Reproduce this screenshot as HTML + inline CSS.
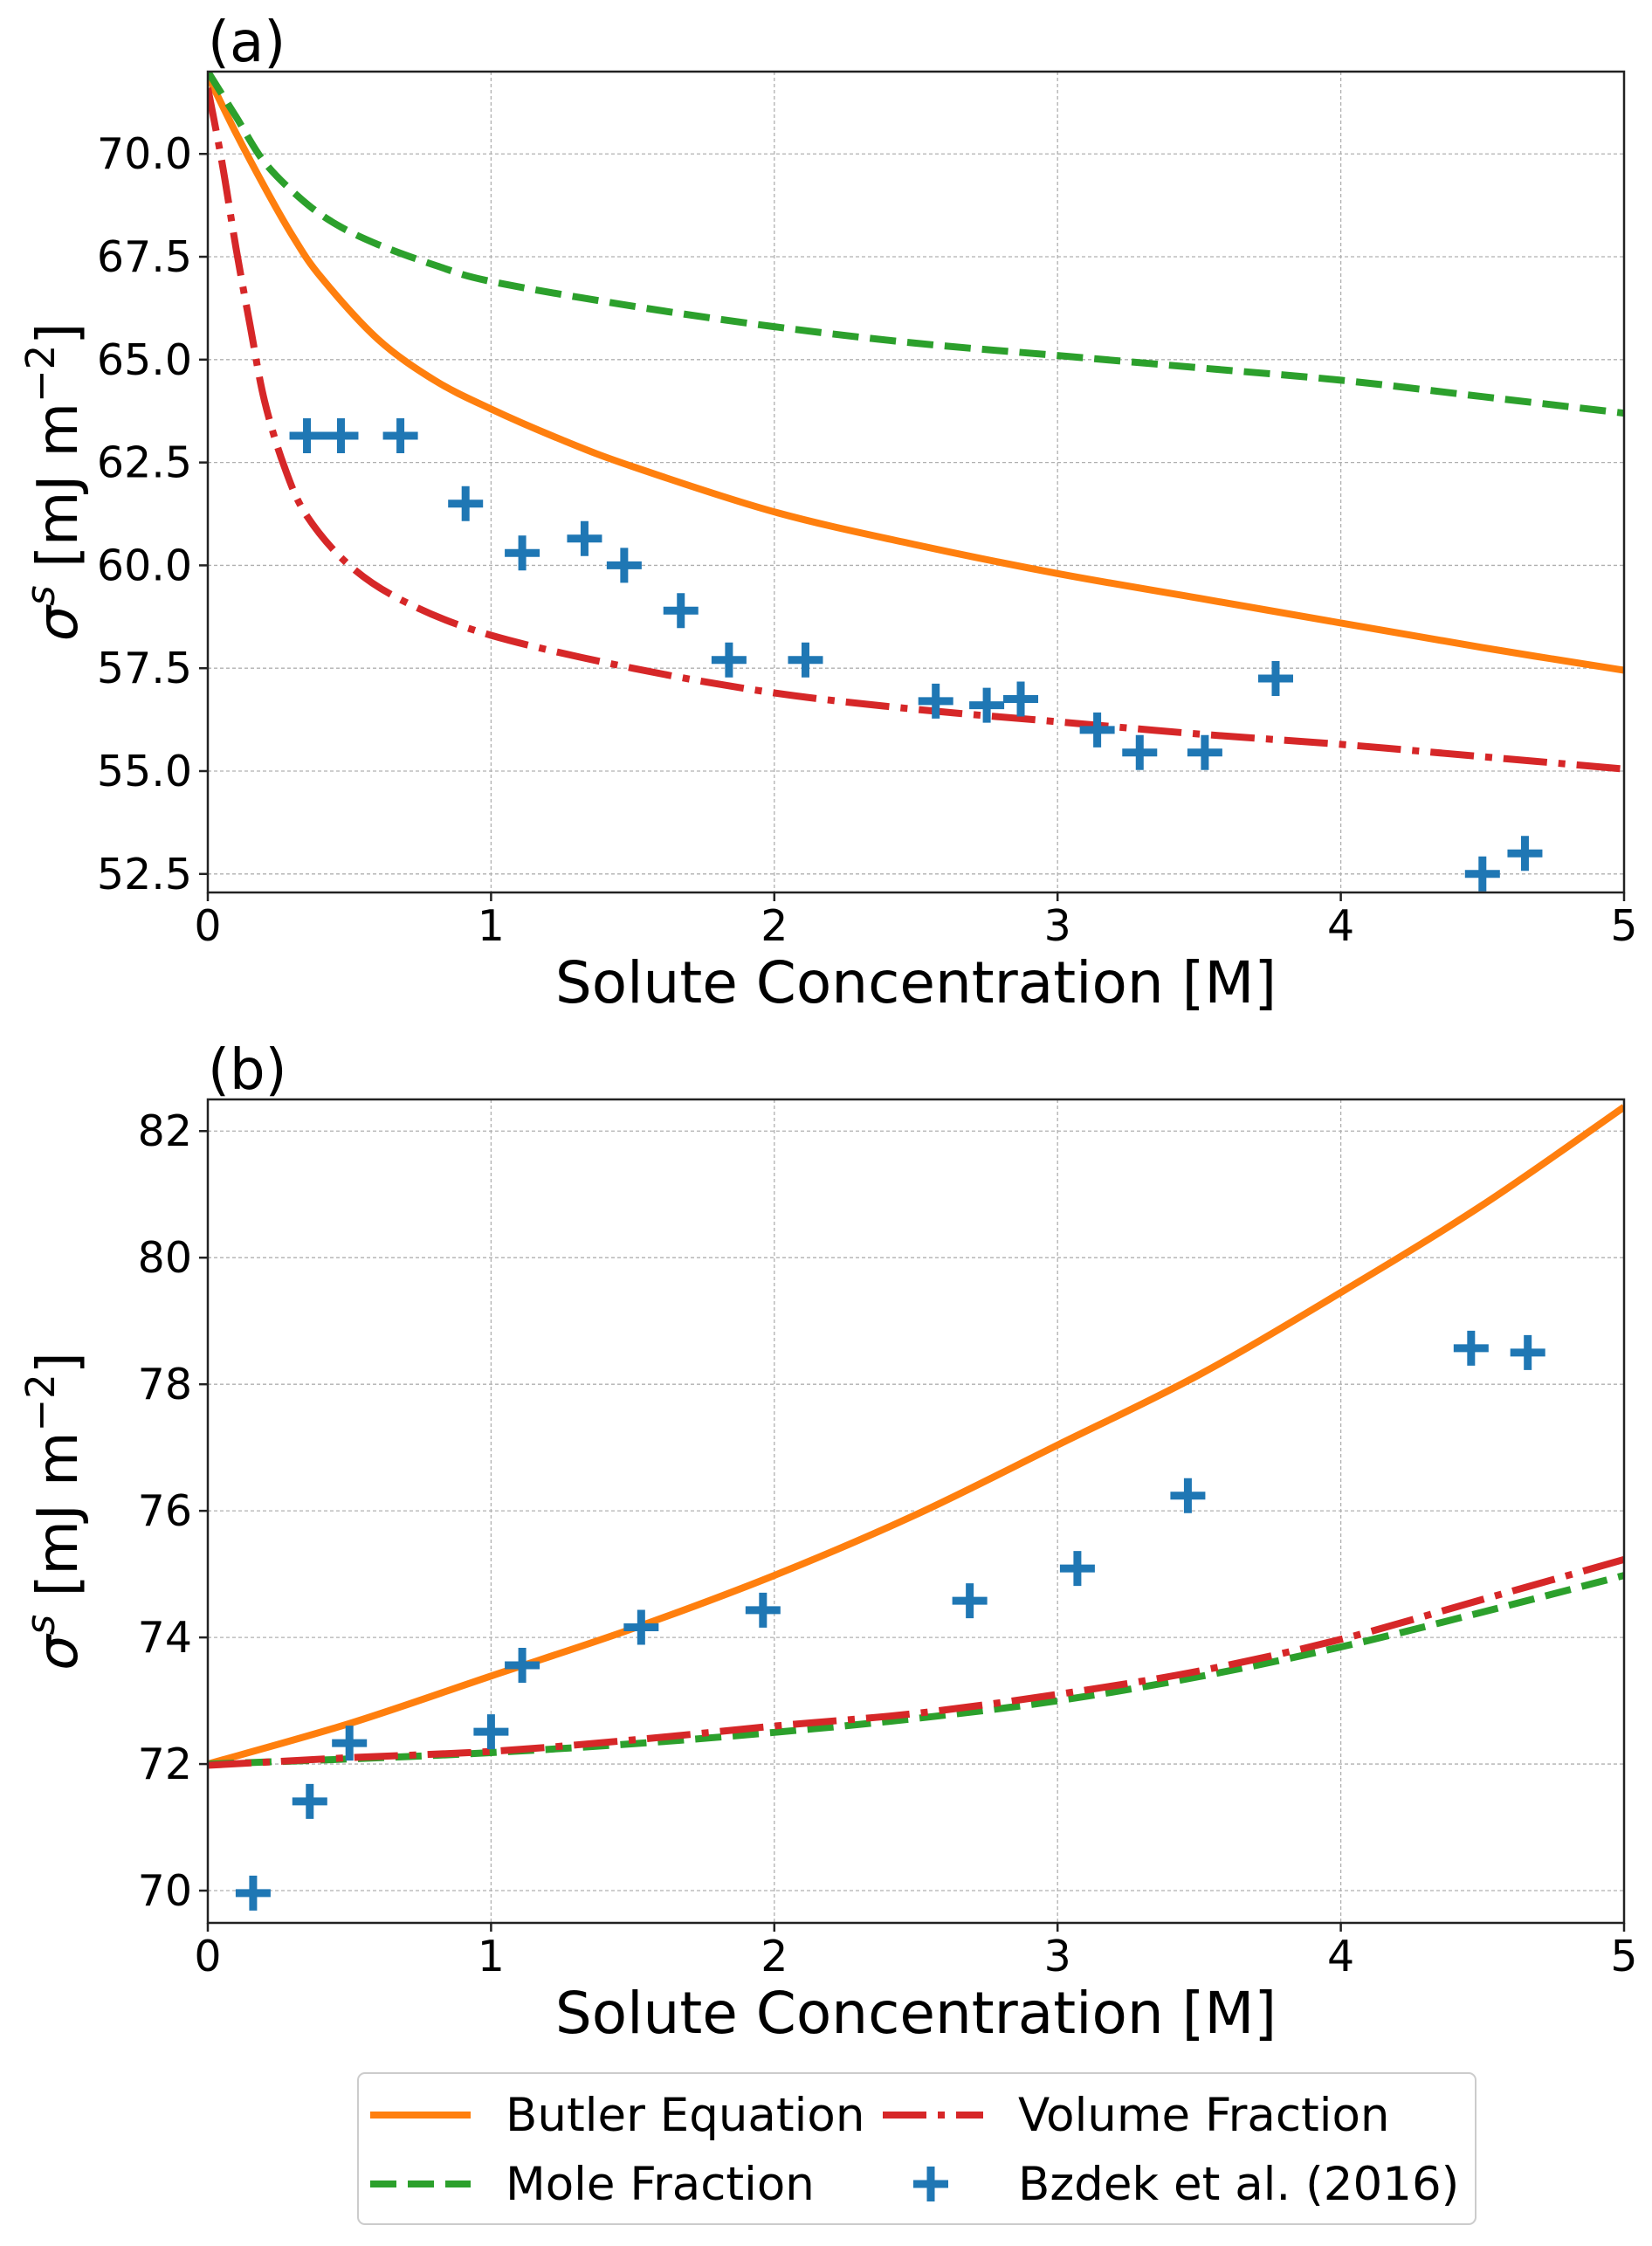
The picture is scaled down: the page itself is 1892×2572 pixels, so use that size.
<!DOCTYPE html>
<html><head><meta charset="utf-8"><style>
html,body{margin:0;padding:0;background:#fff;}
svg text{font-family:"DejaVu Sans","Liberation Sans",sans-serif;fill:#000;}
</style></head><body>
<svg id="fig" width="1892" height="2567" viewBox="0 0 1892 2567" xmlns="http://www.w3.org/2000/svg">
<rect width="1892" height="2567" fill="#fff"/>
<g id="pa"></g>
<g id="pb"></g>
<g id="legend"></g>
</svg>
<script>
// Panel (a) data
const aButlerX = [0,0.1,0.2,0.3,0.4,0.6,0.8,1,1.25,1.5,2,2.5,3,3.5,4,4.5,5];
const aButlerY = [71.9,70.5,69.2,68.0,67.0,65.5,64.5,63.8,63.05,62.4,61.3,60.5,59.8,59.2,58.6,58.0,57.45];
const aMoleX = [0,0.1,0.2,0.33,0.45,0.6,0.8,1,1.5,2,2.5,3,3.5,4,4.5,5];
const aMoleY = [72.0,70.9,69.8,68.9,68.3,67.8,67.3,66.9,66.3,65.8,65.4,65.1,64.8,64.5,64.1,63.7];
const aVolX = [0,0.05,0.1,0.15,0.2,0.27,0.35,0.5,0.7,1,1.5,2,2.5,3,3.5,4,4.5,5];
const aVolY = [71.6,69.8,67.7,65.8,64.0,62.4,61.2,60.0,59.1,58.3,57.5,56.9,56.5,56.2,55.9,55.65,55.35,55.05];
const aExpX = [0.35,0.47,0.68,0.91,1.11,1.33,1.47,1.67,1.84,2.11,2.57,2.75,2.87,3.14,3.29,3.52,3.77,4.50,4.65];
const aExpY = [63.15,63.15,63.15,61.5,60.3,60.65,60.0,58.9,57.7,57.7,56.7,56.6,56.75,56.0,55.45,55.45,57.25,52.5,53.0];
const aYTicks = [52.5,55.0,57.5,60.0,62.5,65.0,67.5,70.0];
// Panel (b) data
const bButlerX = [0,0.5,1,1.5,2,2.5,3,3.5,4,4.5,5];
const bButlerY = [72.0,72.64,73.39,74.14,74.98,75.94,77.04,78.15,79.45,80.83,82.38];
const bMoleX = [0,0.5,1,1.5,2,2.5,3,3.5,4,4.5,5];
const bMoleY = [72.0,72.08,72.18,72.32,72.5,72.72,73.0,73.38,73.85,74.4,74.98];
const bVolX = [0,0.5,1,1.5,2,2.5,3,3.5,4,4.5,5];
const bVolY = [71.98,72.1,72.2,72.38,72.6,72.8,73.1,73.47,73.97,74.6,75.23];
const bExpX = [0.16,0.36,0.5,1.0,1.11,1.53,1.96,2.69,3.07,3.46,4.46,4.66];
const bExpY = [69.96,71.41,72.33,72.51,73.56,74.16,74.43,74.58,75.09,76.24,78.57,78.5];
const bYTicks = [70,72,74,76,78,80,82];
const xTicks = [0,1,2,3,4,5];

const NS='http://www.w3.org/2000/svg';
function mk(parent,tag,attrs,text){const e=document.createElementNS(NS,tag);for(const k in attrs)e.setAttribute(k,attrs[k]);if(text!==undefined)e.textContent=text;parent.appendChild(e);return e;}
const ORANGE='#ff7f0e',GREEN='#2ca02c',RED='#d62728',BLUE='#1f77b4';
const LW=8;

function smoothPath(pts){
  let d='M'+pts[0][0].toFixed(1)+','+pts[0][1].toFixed(1);
  for(let i=0;i<pts.length-1;i++){
    const p0=pts[i-1]||pts[i],p1=pts[i],p2=pts[i+1],p3=pts[i+2]||p2;
    const c1=[p1[0]+(p2[0]-p0[0])/6,p1[1]+(p2[1]-p0[1])/6];
    const c2=[p2[0]-(p3[0]-p1[0])/6,p2[1]-(p3[1]-p1[1])/6];
    d+=` C${c1[0].toFixed(1)},${c1[1].toFixed(1)} ${c2[0].toFixed(1)},${c2[1].toFixed(1)} ${p2[0].toFixed(1)},${p2[1].toFixed(1)}`;
  }
  return d;
}

function panel(g,cfg){
  const L=238,R=1860,T=cfg.top,B=cfg.bottom;
  const sx=v=>L+(v-0)/(5-0)*(R-L);
  const sy=v=>B-(v-cfg.ymin)/(cfg.ymax-cfg.ymin)*(B-T);
  const clipId='clip'+cfg.id;
  const defs=mk(g,'defs',{});const cp=mk(defs,'clipPath',{id:clipId});mk(cp,'rect',{x:L,y:T,width:R-L,height:B-T});
  xTicks.forEach(t=>{const l=mk(g,'line',{x1:sx(t),x2:sx(t),y1:T,y2:B,stroke:'#b0b0b0','stroke-width':1.3,'stroke-dasharray':'4,3'});
    
    });
  cfg.yticks.forEach(t=>{const l=mk(g,'line',{x1:L,x2:R,y1:sy(t),y2:sy(t),stroke:'#b0b0b0','stroke-width':1.3,'stroke-dasharray':'4,3'});
    
    });
  const plot=mk(g,'g',{'clip-path':'url(#'+clipId+')'});
  function line(xs,ys,color,dash,name){
    const pts=xs.map((x,i)=>[sx(x),sy(ys[i])]);
    const p=mk(plot,'path',{d:smoothPath(pts),fill:'none',stroke:color,'stroke-width':LW,'stroke-dasharray':dash||'none','stroke-linejoin':'round'});
    
    
  }
  line(cfg.bx,cfg.by,ORANGE,null,'butler-equation-line');
  line(cfg.mx,cfg.my,GREEN,'30,13','mole-fraction-line');
  line(cfg.vx,cfg.vy,RED,'50,13,8,13','volume-fraction-line');
  cfg.ex.forEach((x,i)=>{
    const cx=sx(x),cy=sy(cfg.ey[i]);
    const m=mk(plot,'path',{d:`M${cx-20},${cy}H${cx+20}M${cx},${cy-20}V${cy+20}`,stroke:BLUE,'stroke-width':9,fill:'none'});
    
    
  });
  mk(g,'rect',{x:L,y:T,width:R-L,height:B-T,fill:'none',stroke:'#222','stroke-width':2.5});
  xTicks.forEach(t=>{mk(g,'line',{x1:sx(t),x2:sx(t),y1:B,y2:B+10,stroke:'#222','stroke-width':2.5});
    const tx=mk(g,'text',{x:sx(t),y:B+55,'font-size':49,'text-anchor':'middle'},String(t));
    
    });
  cfg.yticks.forEach(t=>{mk(g,'line',{x1:L-10,x2:L,y1:sy(t),y2:sy(t),stroke:'#222','stroke-width':2.5});
    const tx=mk(g,'text',{x:L-18,y:sy(t)+17,'font-size':49,'text-anchor':'end'},cfg.fmt(t));
    
    });
  const xl=mk(g,'text',{x:(L+R)/2,y:B+126,'font-size':66,'text-anchor':'middle'},'Solute Concentration [M]');
  
  
  const yc=(T+B)/2;
  const yl=mk(g,'text',{x:0,y:0,'font-size':64,'text-anchor':'middle',transform:`translate(88,${yc}) rotate(-90)`});
  
  
  mk(yl,'tspan',{'font-style':'italic'},'σ');
  mk(yl,'tspan',{dy:-26,'font-size':45,'font-style':'italic'},'s');
  mk(yl,'tspan',{dy:26},' [mJ m');
  mk(yl,'tspan',{dy:-26,'font-size':45},'−2');
  mk(yl,'tspan',{dy:26},']');
  const pl=mk(g,'text',{x:L,y:T-12,'font-size':64},cfg.label);
  
  
}
panel(document.getElementById('pa'),{id:'a',top:82,bottom:1022,ymin:52.05,ymax:72.0,yticks:aYTicks,fmt:t=>t.toFixed(1),
  bx:aButlerX,by:aButlerY,mx:aMoleX,my:aMoleY,vx:aVolX,vy:aVolY,ex:aExpX,ey:aExpY,label:'(a)'});
panel(document.getElementById('pb'),{id:'b',top:1259,bottom:2202,ymin:69.49,ymax:82.5,yticks:bYTicks,fmt:t=>String(t),
  bx:bButlerX,by:bButlerY,mx:bMoleX,my:bMoleY,vx:bVolX,vy:bVolY,ex:bExpX,ey:bExpY,label:'(b)'});

const lg=document.getElementById('legend');
mk(lg,'rect',{x:410,y:2374,width:1280,height:173,rx:8,fill:'#fff',stroke:'#ccc','stroke-width':2});
const entries=[
 {x:424,y:2422,t:'Butler Equation',c:ORANGE,d:null,n:'legend-entry-butler'},
 {x:1011,y:2422,t:'Volume Fraction',c:RED,d:'50,13,8,13',n:'legend-entry-volume-fraction'},
 {x:424,y:2501,t:'Mole Fraction',c:GREEN,d:'30,13',n:'legend-entry-mole-fraction'},
 {x:1011,y:2501,t:'Bzdek et al. (2016)',c:BLUE,d:'marker',n:'legend-entry-bzdek'}];
entries.forEach(e=>{
  const g=mk(lg,'g',{});
  
  
  if(e.d==='marker'){const cx=e.x+55;mk(g,'path',{d:`M${cx-20},${e.y}H${cx+20}M${cx},${e.y-20}V${e.y+20}`,stroke:BLUE,'stroke-width':9});}
  else mk(g,'line',{x1:e.x,x2:e.x+115,y1:e.y,y2:e.y,stroke:e.c,'stroke-width':LW,'stroke-dasharray':e.d||'none'});
  mk(g,'text',{x:e.x+155,y:e.y+18,'font-size':53},e.t);
});
</script>
</body></html>
